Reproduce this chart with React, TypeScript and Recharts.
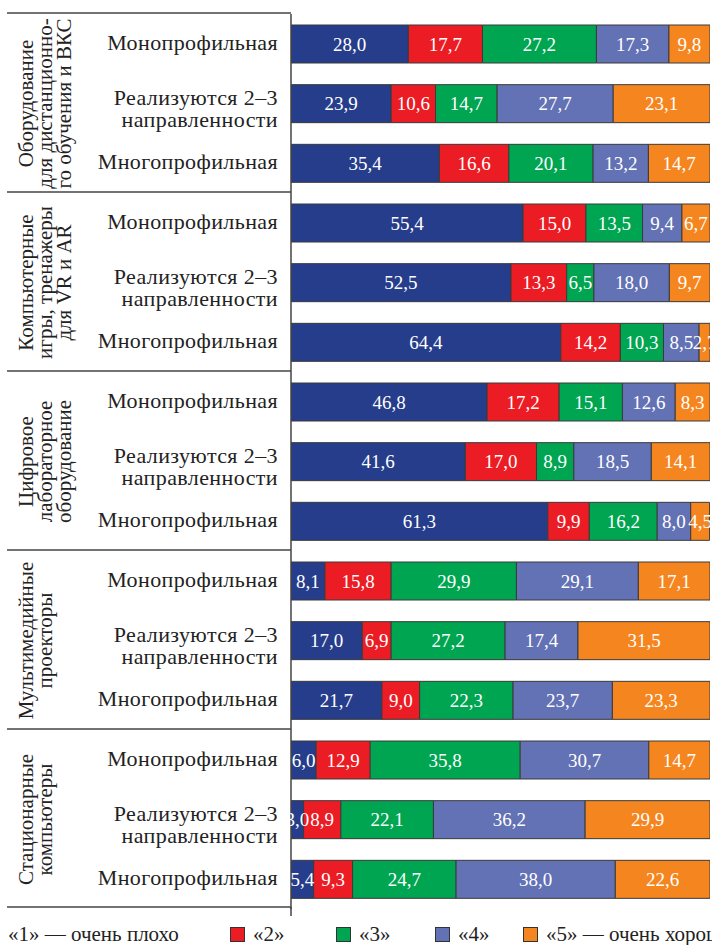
import { BarChart, Bar, XAxis, YAxis, LabelList, Legend } from 'recharts'

const groups = [
  ['Оборудование', 'для дистанционно-', 'го обучения и ВКС'],
  ['Компьютерные', 'игры, тренажеры', 'для VR и AR'],
  ['Цифровое', 'лабораторное', 'оборудование'],
  ['Мультимедийные', 'проекторы'],
  ['Стационарные', 'компьютеры'],
]
const rowTypes = [['Монопрофильная'], ['Реализуются 2–3', 'направленности'], ['Многопрофильная']]

// percent of answers per score, rows top to bottom
const score1 = [28.0, 23.9, 35.4, 55.4, 52.5, 64.4, 46.8, 41.6, 61.3, 8.1, 17.0, 21.7, 6.0, 3.0, 5.4]
const score2 = [17.7, 10.6, 16.6, 15.0, 13.3, 14.2, 17.2, 17.0, 9.9, 15.8, 6.9, 9.0, 12.9, 8.9, 9.3]
const score3 = [27.2, 14.7, 20.1, 13.5, 6.5, 10.3, 15.1, 8.9, 16.2, 29.9, 27.2, 22.3, 35.8, 22.1, 24.7]
const score4 = [17.3, 27.7, 13.2, 9.4, 18.0, 8.5, 12.6, 18.5, 8.0, 29.1, 17.4, 23.7, 30.7, 36.2, 38.0]
const score5 = [9.8, 23.1, 14.7, 6.7, 9.7, 2.7, 8.3, 14.1, 4.5, 17.1, 31.5, 23.3, 14.7, 29.9, 22.6]

const seriesNames = ['«1» — очень плохо', '«2»', '«3»', '«4»', '«5» — очень хорошо']
const colors = ['#263D8C', '#EC1C24', '#00A551', '#6371B5', '#F5861F']
const keys = ['s1', 's2', 's3', 's4', 's5']

const data = groups.flatMap((_, gi) =>
  rowTypes.map((_, ti) => {
    const i = gi * 3 + ti
    return { id: `r${i}`, s1: score1[i], s2: score2[i], s3: score3[i], s4: score4[i], s5: score5[i] }
  })
)

const W = 712
const H = 945
const MARGIN = { top: 14, right: 2, bottom: 36, left: 0 }
const BAND = (H - MARGIN.top - MARGIN.bottom) / data.length
const FONT = '"Liberation Serif", "DejaVu Serif", serif'
const LINE = '#444'

const fmt = (v: any) => Number(v).toFixed(1).replace('.', ',')

function RowTick(props: any) {
  const { y, index } = props
  const lines = rowTypes[index % 3]
  const gi = Math.floor(index / 3)
  const tx = 278
  const top = lines.length === 1 ? 6 : 1
  return (
    <g>
      {lines.map((l, i) => (
        <text key={i} x={tx} y={y + top + i * 22} textAnchor="end" fontSize={22} letterSpacing={0.4} fontFamily={FONT} fill="#222">
          {l}
        </text>
      ))}
      {index % 3 === 0 && (
        <line x1={7} x2={291} y1={y - BAND / 2 - 1} y2={y - BAND / 2 - 1} stroke={LINE} strokeWidth={1.5} />
      )}
      {index === data.length - 1 && (
        <>
          <line x1={7} x2={291} y1={y + BAND / 2 - 2} y2={y + BAND / 2 - 2} stroke={LINE} strokeWidth={1.5} />
          <line x1={291} x2={291} y1={y + BAND / 2 - 2} y2={y + BAND / 2 + 7} stroke={LINE} strokeWidth={1.5} />
        </>
      )}
      {index % 3 === 1 &&
        groups[gi].map((l, i) => (
          <text
            key={i}
            transform={`translate(${33 + i * 19}, ${y}) rotate(-90)`}
            textAnchor="middle"
            fontSize={21}
            fontFamily={FONT}
            fill="#222"
          >
            {l}
          </text>
        ))}
    </g>
  )
}

// legend item widths so the swatches land where they are in the source
const legendWidths = [245, 106, 99, 88, 300]

function LegendRow({ payload }: any) {
  return (
    <div style={{ display: 'flex', whiteSpace: 'nowrap', fontFamily: FONT, fontSize: 21, color: '#222', lineHeight: '20px' }}>
      {(payload || []).map((p: any, i: number) => (
        <div key={i} style={{ width: legendWidths[i], display: 'flex', alignItems: 'center', flex: 'none' }}>
          <span style={{ width: 13, height: 13, background: p.color, border: '1px solid #333', marginRight: 8, flex: 'none' }} />
          <span>{p.value}</span>
        </div>
      ))}
    </div>
  )
}

export default function App() {
  return (
    <div style={{ position: 'absolute', left: 0, top: 0, width: W, height: H, overflow: 'hidden', background: '#fff' }}>
      <BarChart width={W} height={H} data={data} layout="vertical" margin={MARGIN} barSize={38}>
        <XAxis type="number" domain={[0, 100]} allowDataOverflow hide />
        <YAxis
          type="category"
          dataKey="id"
          width={291}
          interval={0}
          tickLine={false}
          tickSize={0}
          axisLine={{ stroke: LINE, strokeWidth: 1.5 }}
          tick={<RowTick />}
        />
        {keys.map((k, i) => (
          <Bar key={k} dataKey={k} name={seriesNames[i]} stackId="a" fill={colors[i]} stroke="#3a3a3a" strokeWidth={1} isAnimationActive={false}>
            <LabelList dataKey={k} position="center" fill="#fff" fontSize={19} fontFamily={FONT} formatter={fmt} />
          </Bar>
        ))}
        <Legend
          verticalAlign="middle"
          align="center"
          layout="horizontal"
          content={<LegendRow />}
          wrapperStyle={{ top: 924, left: -15, width: 900, height: 20 }}
        />
      </BarChart>
    </div>
  )
}
